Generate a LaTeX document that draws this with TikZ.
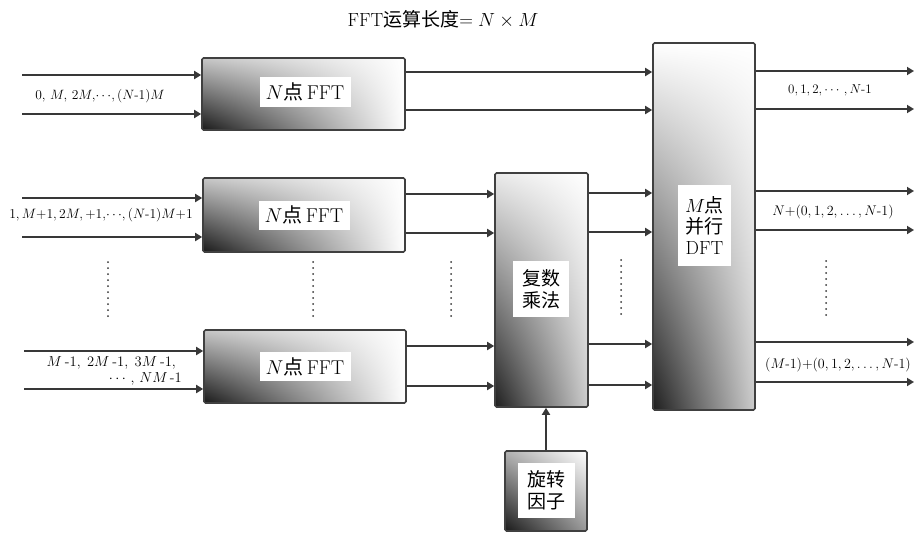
\RequirePackage{fix-cm}
\documentclass[tikz,border=0pt]{standalone}
\usepackage{fontspec}
\usepackage{amsmath}
\newfontfamily\cjk{Noto Sans CJK SC}
\newcommand\zh[1]{{\cjk #1}}
\newcommand\hy{\text{-}}
\usetikzlibrary{arrows.meta,shadings}
\begin{document}
\begin{tikzpicture}[x=1pt,y=-1pt]
\tikzset{
 box/.style={draw=black!75, line width=1.6pt, rounded corners=1.5pt, inner sep=0pt},
 hshade/.style={box, lower left=black!90, upper left=black!22, lower right=white, upper right=white},
 vshade/.style={box, lower left=black!88, lower right=black!20, upper left=black!8, upper right=white},
 lbl/.style={fill=white, inner sep=0pt, align=center},
 arr/.style={draw=black!78, line width=2.2pt, -{Triangle[length=7pt,width=8pt]}},
 dotsline/.style={draw=black!80, line width=2pt, line cap=round, dash pattern=on 0pt off 6pt},
 small/.style={inner sep=0pt}
}
\useasboundingbox (0,0) rectangle (916,535);

% title
\node[font=\fontsize{19}{21}\selectfont] (title) at (443,19) {FFT\zh{运算长度}$=N\times M$};

% boxes
\node[hshade, minimum width=203pt, minimum height=72pt] (f1) at (303.5,94) {};
\node[hshade, minimum width=202pt, minimum height=74pt] (f2) at (304,215) {};
\node[hshade, minimum width=202pt, minimum height=73pt] (f3) at (305,366.5) {};
\node[vshade, minimum width=93pt, minimum height=234pt] (mul) at (541.5,290) {};
\node[vshade, upper left=white, minimum width=102pt, minimum height=367pt] (dft) at (704,226.5) {};
\node[hshade, upper left=black!30, lower right=black!40, minimum width=82pt, minimum height=80pt] (tw) at (546,491) {};

% box labels
\node[lbl, minimum width=91pt, minimum height=29pt, font=\fontsize{20}{22}\selectfont] (f1l) at (305,92) {$N$\zh{点}\,FFT};
\node[lbl, minimum width=91pt, minimum height=29pt, font=\fontsize{20}{22}\selectfont] (f2l) at (f2) {$N$\zh{点}\,FFT};
\node[lbl, minimum width=91pt, minimum height=29pt, font=\fontsize{20}{22}\selectfont] (f3l) at (f3) {$N$\zh{点}\,FFT};
\node[lbl, minimum width=56pt, minimum height=56pt, font=\fontsize{19}{22}\selectfont] (mull) at (541,289) {\zh{复数}\\\zh{乘法}};
\node[lbl, minimum width=53pt, minimum height=81pt, font=\fontsize{19}{21}\selectfont] (dftl) at (704.5,225.5) {$M$\zh{点}\\\zh{并行}\\DFT};
\node[lbl, minimum width=57pt, minimum height=55pt, font=\fontsize{19}{22}\selectfont] (twl) at (546.5,490.5) {\zh{旋转}\\\zh{因子}};

% input arrows
\coordinate (a1) at (22,75);  \draw[arr] (a1) -- (a1 -| f1.west);
\coordinate (a2) at (22,114); \draw[arr] (a2) -- (a2 -| f1.west);
\coordinate (a3) at (22,198); \draw[arr] (a3) -- (a3 -| f2.west);
\coordinate (a4) at (22,237); \draw[arr] (a4) -- (a4 -| f2.west);
\coordinate (a5) at (24,351); \draw[arr] (a5) -- (a5 -| f3.west);
\coordinate (a6) at (24,389); \draw[arr] (a6) -- (a6 -| f3.west);

% FFT outputs
\coordinate (b1) at (0,72);  \draw[arr] (f1.east |- b1) -- (dft.west |- b1);
\coordinate (b2) at (0,110); \draw[arr] (f1.east |- b2) -- (dft.west |- b2);
\coordinate (b3) at (0,194); \draw[arr] (f2.east |- b3) -- (mul.west |- b3);
\coordinate (b4) at (0,233); \draw[arr] (f2.east |- b4) -- (mul.west |- b4);
\coordinate (b5) at (0,346); \draw[arr] (f3.east |- b5) -- (mul.west |- b5);
\coordinate (b6) at (0,386); \draw[arr] (f3.east |- b6) -- (mul.west |- b6);

% multiplier outputs
\coordinate (m1) at (0,193); \draw[arr] (mul.east |- m1) -- (dft.west |- m1);
\coordinate (m2) at (0,232); \draw[arr] (mul.east |- m2) -- (dft.west |- m2);
\coordinate (m3) at (0,344); \draw[arr] (mul.east |- m3) -- (dft.west |- m3);
\coordinate (m4) at (0,385); \draw[arr] (mul.east |- m4) -- (dft.west |- m4);

% DFT outputs
\coordinate (c1) at (914,71);  \draw[arr] (dft.east |- c1) -- (c1);
\coordinate (c2) at (914,109); \draw[arr] (dft.east |- c2) -- (c2);
\coordinate (c3) at (914,191); \draw[arr] (dft.east |- c3) -- (c3);
\coordinate (c4) at (914,230); \draw[arr] (dft.east |- c4) -- (c4);
\coordinate (c5) at (914,342); \draw[arr] (dft.east |- c5) -- (c5);
\coordinate (c6) at (914,382); \draw[arr] (dft.east |- c6) -- (c6);

% twiddle arrow
\draw[arr] (tw.north) -- (tw.north |- mul.south);

% dotted lines
\draw[dotsline] (108,262) -- (108,316);
\draw[dotsline] (313,262) -- (313,316);
\draw[dotsline] (451,262) -- (451,316);
\draw[dotsline] (621,260) -- (621,314);
\draw[dotsline] (826,261) -- (826,315);

% input labels
\node[small, font=\fontsize{13.5}{15}\selectfont] (in1) at (100,96) {$0,\,M,\,2M,\!\cdots\!,(N\hy1)M$};
\node[small, font=\fontsize{13.6}{15}\selectfont] (in2) at (101,215) {$1,M{+}1,2M,{+}1,\!\cdots\!,(N\hy1)M{+}1$};
\node[small, font=\fontsize{14.5}{16}\selectfont, align=right, anchor=east] (in3) at (182,371) {$M\kern3pt\hy1,\kern4pt 2M\kern3pt\hy1,\kern4pt 3M\kern3pt\hy1,$\kern6pt\\$\cdots,\,NM\,\hy1$};

% output labels
\node[small, font=\fontsize{13}{15}\selectfont] (o1) at (830,90) {$0,1,2,\cdots,N\hy1$};
\node[small, font=\fontsize{14}{16}\selectfont] (o2) at (833,212) {$N{+}(0,1,2,\ldots,N\hy1)$};
\node[small, font=\fontsize{14}{16}\selectfont] (o3) at (838,365) {$(M\hy1){+}(0,1,2,\ldots,N\hy1)$};
\end{tikzpicture}
\end{document}
